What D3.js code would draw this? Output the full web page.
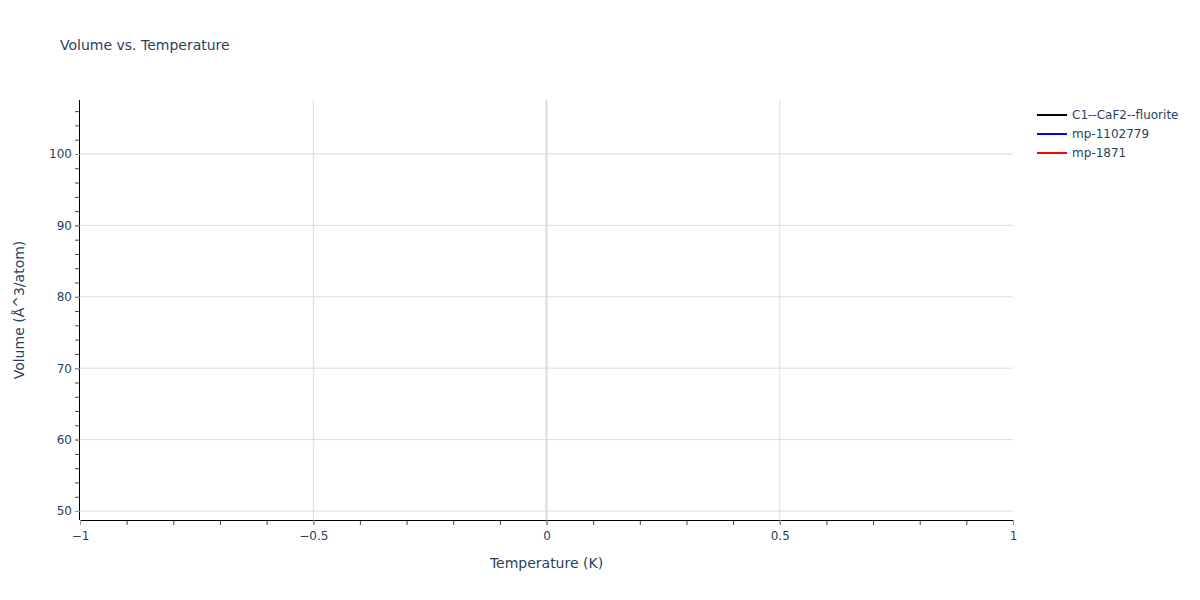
<!DOCTYPE html>
<html>
<head>
<meta charset="utf-8">
<script src="https://cdn.jsdelivr.net/npm/d3@7"></script>
<style>
  body { margin: 0; background: #fff; }
  svg { font-family: "DejaVu Sans", Verdana, sans-serif; }
  .grid line { stroke: #dcdcdc; stroke-width: 1; }
  .tick text { fill: #2a3f5f; font-size: 12px; font-family: "DejaVu Sans", Verdana, sans-serif; }
</style>
</head>
<body>
<svg id="chart" width="1200" height="600"></svg>
<script>
// series names and colours (legend)
var seriesNames = ["C1--CaF2--fluorite", "mp-1102779", "mp-1871"];
var seriesColors = ["#000000", "#0000ff", "#ff0000"];

// each series only has a value at T = 0, so no line shows
var temps = [0];
var volC1 = [];
var volMp1102779 = [];
var volMp1871 = [];

var xTicks = [-1, -0.5, 0, 0.5, 1];
var yTicks = [50, 60, 70, 80, 90, 100];

var margin = {top: 100, right: 187, bottom: 80, left: 80};
var width = 1200 - margin.left - margin.right,
    height = 600 - margin.top - margin.bottom;

var xScale = d3.scaleLinear()
    .domain([-1, 1])
    .range([0, width]);

var yScale = d3.scaleLinear()
    .domain([48.74, 107.56])
    .range([height, 0]);

var svg = d3.select("#chart");
var g = svg.append("g")
    .attr("transform", "translate(" + margin.left + "," + margin.top + ")");

// grid lines
g.append("g")
    .attr("class", "grid")
    .selectAll("line.h")
    .data(yTicks)
    .enter().append("line")
    .attr("x1", 0)
    .attr("x2", width)
    .attr("y1", function(d) { return yScale(d); })
    .attr("y2", function(d) { return yScale(d); });

g.append("g")
    .attr("class", "grid")
    .selectAll("line.v")
    .data(xTicks.filter(function(d) { return d > -1 && d < 1; }))
    .enter().append("line")
    .attr("x1", function(d) { return xScale(d); })
    .attr("x2", function(d) { return xScale(d); })
    .attr("y1", 0)
    .attr("y2", height)
    .style("stroke-width", function(d) { return d === 0 ? 2 : 1; });

// minor ticks
var xMinor = d3.range(-10, 11).map(function(i) { return i / 10; });
var yMinor = d3.range(50, 108, 2);

g.append("g")
    .attr("transform", "translate(0," + height + ")")
    .call(d3.axisBottom(xScale).tickValues(xMinor).tickSize(5).tickFormat(""))
    .call(function(a) { a.select(".domain").remove(); })
    .selectAll("line").attr("stroke", "#444");

g.append("g")
    .call(d3.axisLeft(yScale).tickValues(yMinor).tickSize(5).tickFormat(""))
    .call(function(a) { a.select(".domain").remove(); })
    .selectAll("line").attr("stroke", "#444");

// major axes
var xAxis = g.append("g")
    .attr("transform", "translate(0," + height + ")")
    .call(d3.axisBottom(xScale)
        .tickValues(xTicks)
        .tickSize(5)
        .tickPadding(6)
        .tickFormat(function(d) { return d < 0 ? "\u2212" + Math.abs(d) : d; }));
xAxis.select(".domain").attr("stroke", "#000").attr("d", "M0,0.5H" + width);
xAxis.selectAll(".tick line").attr("stroke", "#999");

var yAxis = g.append("g")
    .call(d3.axisLeft(yScale)
        .tickValues(yTicks)
        .tickSize(5)
        .tickPadding(3));
yAxis.select(".domain").attr("stroke", "#000").attr("d", "M-0.5,0V" + height);
yAxis.selectAll(".tick line").attr("stroke", "#999");

// series lines (single point each, so nothing visible)
var line = d3.line()
    .x(function(d, i) { return xScale(temps[i]); })
    .y(function(d) { return yScale(d); });

[volC1, volMp1102779, volMp1871].forEach(function(vals, i) {
    g.append("path")
        .datum(vals)
        .attr("fill", "none")
        .attr("stroke", seriesColors[i])
        .attr("stroke-width", 2)
        .attr("d", line);
});

// title
svg.append("text")
    .attr("x", 60)
    .attr("y", 50)
    .attr("fill", "#2a3f5f")
    .style("font-size", "14px")
    .text("Volume vs. Temperature");

// axis titles
svg.append("text")
    .attr("x", margin.left + width / 2)
    .attr("y", 568)
    .attr("text-anchor", "middle")
    .attr("fill", "#2a3f5f")
    .style("font-size", "14px")
    .text("Temperature (K)");

svg.append("text")
    .attr("transform", "translate(24," + (margin.top + height / 2) + ") rotate(-90)")
    .attr("text-anchor", "middle")
    .attr("fill", "#2a3f5f")
    .style("font-size", "14px")
    .text("Volume (\u00c5^3/atom)");

// legend
var legend = svg.append("g")
    .attr("transform", "translate(1037,115)");

var item = legend.selectAll("g")
    .data(seriesNames)
    .enter().append("g")
    .attr("transform", function(d, i) { return "translate(0," + (i * 19) + ")"; });

item.append("line")
    .attr("x1", 0)
    .attr("x2", 30)
    .attr("stroke", function(d, i) { return seriesColors[i]; })
    .attr("stroke-width", 2);

item.append("text")
    .attr("x", 35)
    .attr("y", 4)
    .attr("fill", "#2a3f5f")
    .style("font-size", "12px")
    .text(function(d) { return d; });
</script>
</body>
</html>
